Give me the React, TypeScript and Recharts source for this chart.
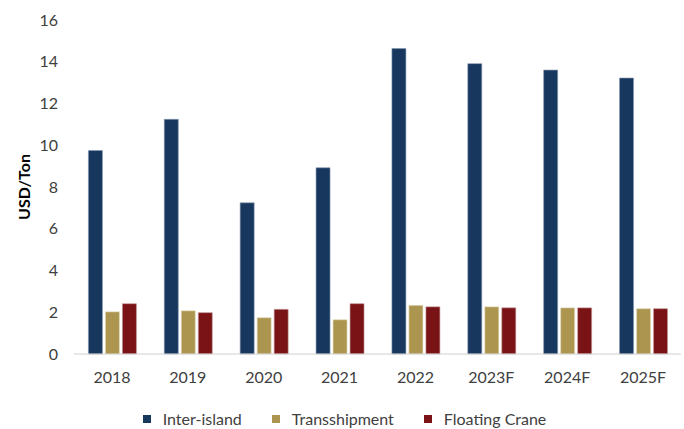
import React from 'react';
import { BarChart, Bar, XAxis, YAxis, Legend } from 'recharts';

// ── data ─────────────────────────────────────────────────────────────────────

const YEARS = ['2018', '2019', '2020', '2021', '2022', '2023F', '2024F', '2025F'];
const INTER_ISLAND = [9.75, 11.24, 7.24, 8.92, 14.63, 13.91, 13.6, 13.22];
const TRANSSHIPMENT = [2.02, 2.07, 1.74, 1.64, 2.33, 2.26, 2.21, 2.17];
const FLOATING_CRANE = [2.41, 1.98, 2.14, 2.41, 2.26, 2.21, 2.21, 2.17];
const Y_TICKS = [0, 2, 4, 6, 8, 10, 12, 14, 16];
const SERIES_ORDER = ['Inter-island', 'Transshipment', 'Floating Crane'];

const data = YEARS.map((year, i) => ({
  year,
  inter: INTER_ISLAND[i],
  trans: TRANSSHIPMENT[i],
  crane: FLOATING_CRANE[i],
}));

const FONT = "Lato, 'Open Sans', sans-serif";
const TEXT = '#404040';

const TICK = { fill: TEXT, fontSize: 16, fontFamily: FONT };

function YTitle({ viewBox }: any) {
  const cy = viewBox.y + viewBox.height / 2;
  return (
    <text
      x={0}
      y={0}
      transform={`translate(30, ${cy}) rotate(-90)`}
      textAnchor="middle"
      fill="#000"
      fontSize={16}
      fontWeight={700}
      fontFamily={FONT}
    >
      USD/Ton
    </text>
  );
}

function LegendBox({ payload }: any) {
  const items = [...(payload || [])].sort(
    (a: any, b: any) => SERIES_ORDER.indexOf(a.value) - SERIES_ORDER.indexOf(b.value)
  );
  return (
    <div style={{ display: 'flex', justifyContent: 'center', gap: 30, paddingTop: 15, paddingLeft: 8 }}>
      {items.map((p: any) => (
        <div key={p.value} style={{ display: 'flex', alignItems: 'center', gap: 12 }}>
          <span style={{ width: 8, height: 8, background: p.color, display: 'inline-block' }} />
          <span style={{ fontSize: 16, color: TEXT, fontFamily: FONT }}>{p.value}</span>
        </div>
      ))}
    </div>
  );
}

export default function App() {
  return (
    <div style={{ position: 'absolute', left: 0, top: 0, width: 684, height: 429, background: '#fff' }}>
      <BarChart
        width={684}
        height={429}
        data={data}
        margin={{ top: 20, right: 3, left: 0, bottom: 0 }}
        barCategoryGap="19%"
        barGap={3}
      >
        <XAxis
          dataKey="year"
          axisLine={{ stroke: '#D0D0D0' }}
          tickLine={false}
          tickSize={0}
          tickMargin={18}
          height={40}
          tick={TICK}
        />
        <YAxis
          domain={[0, 16]}
          ticks={Y_TICKS}
          axisLine={false}
          tickLine={false}
          tickSize={0}
          tickMargin={16}
          width={74}
          tick={TICK}
          label={<YTitle />}
        />
        <Legend verticalAlign="bottom" height={35} content={<LegendBox />} />
        <Bar dataKey="inter" name="Inter-island" fill="#17375E" stroke="#8497B0" strokeWidth={0.6} isAnimationActive={false} />
        <Bar dataKey="trans" name="Transshipment" fill="#AC964F" stroke="#E6DCC0" strokeWidth={0.6} isAnimationActive={false} />
        <Bar dataKey="crane" name="Floating Crane" fill="#7A1315" stroke="#C49A9B" strokeWidth={0.6} isAnimationActive={false} />
      </BarChart>
    </div>
  );
}
